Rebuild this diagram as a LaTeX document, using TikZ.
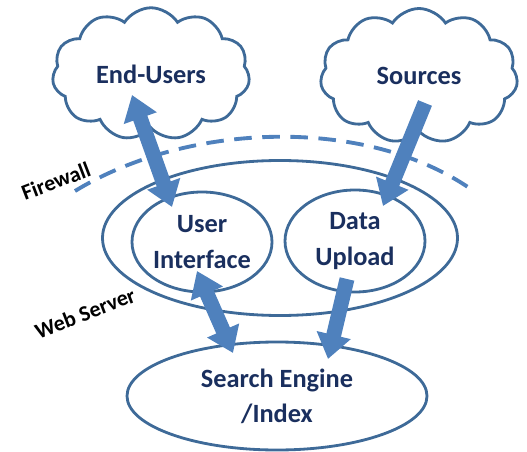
\documentclass[tikz,border=0pt]{standalone}
\usepackage{fontspec}
\setmainfont{Carlito}
\usepackage{tikz}
\usetikzlibrary{shapes}
\usetikzlibrary{arrows.meta}
\definecolor{lineblue}{HTML}{3E6A98}
\definecolor{arrowblue}{HTML}{4F81BD}
\definecolor{textblue}{HTML}{1A2F5E}
\tikzset{
	cloud node/.style={cloud,cloud puffs=11,cloud puff arc=115,cloud ignores aspect,draw=lineblue,line width=1.6pt,fill=white,inner sep=0pt,font=\fontsize{15}{20}\selectfont\bfseries,text=textblue},
	oval node/.style={ellipse,draw=lineblue,line width=1.6pt,inner sep=0pt,align=center,font=\fontsize{15}{20}\selectfont\bfseries,text=textblue},
	side label/.style={font=\fontsize{12.5}{14}\selectfont\bfseries,text=black}
}
\begin{document}
\begin{tikzpicture}[big arrow/.style={draw=arrowblue,line width=8.5pt},
            >={Triangle[length=14pt,width=19pt]}]
            \useasboundingbox (0,0) rectangle (10.54,-9.04);
            \node [oval node,minimum width=7.1cm,minimum height=3.1cm] (web) at (5.6,-4.76) {};
            \node [oval node,minimum width=2.8cm,minimum height=2cm] (ui) at (4.04,-4.84) {User\\Interface};
            \node [oval node,minimum width=2.8cm,minimum height=2.04cm] (du) at (7.1,-4.82) {Data\\Upload};
            \node [oval node,minimum width=6cm,minimum height=2.16cm] (se) at (5.54,-7.92) {Search Engine\\/Index};
            \node [cloud node,minimum width=3.95cm,minimum height=2.65cm] (eu) at (3.02,-1.48) {End-Users};
            \node [cloud node,minimum width=3.95cm,minimum height=2.7cm] (src) at (8.38,-1.52) {Sources};
            \node [side label,rotate=21] (fw) at (1.12,-3.62) {Firewall};
            \node [side label,rotate=21] (ws) at (1.7,-6.26) {Web Server};
            \coordinate (fwl) at (1.5,-3.82);
            \coordinate (fwr) at (9.5,-3.84);
            \draw [arrowblue,line width=2.2pt,dash pattern=on 10pt off 6pt] (fwl) .. controls (3.8,-2.42) and (7.4,-2.32) .. (fwr);
            \coordinate (euin) at (2.64,-1.9);
            \coordinate (uiin) at (3.44,-4.14);
            \coordinate (srcin) at (8.5,-2.06);
            \coordinate (duin) at (7.66,-4.12);
            \coordinate (uiout) at (3.94,-5.42);
            \coordinate (seinl) at (4.66,-7.06);
            \coordinate (duout) at (6.94,-5.58);
            \coordinate (seinr) at (6.56,-7.18);
            \draw [big arrow,<->] (euin) -- (uiin);
            \draw [big arrow,->] (srcin) -- (duin);
            \draw [big arrow,<->] (uiout) -- (seinl);
            \draw [big arrow,->] (duout) -- (seinr);
          \end{tikzpicture}
\end{document}
